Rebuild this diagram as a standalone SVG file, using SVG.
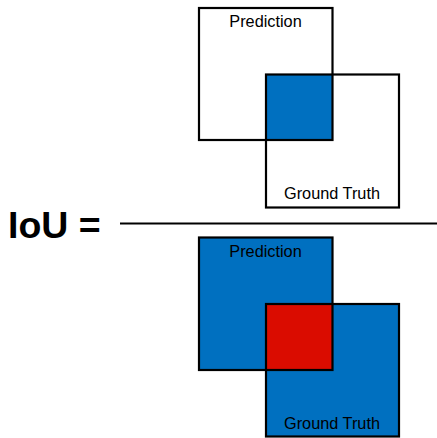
<svg xmlns="http://www.w3.org/2000/svg" width="437" height="438" viewBox="0 0 437 438">
  <style>
    .box { fill: none; stroke: #000; stroke-width: 2.2; }
    .blue { fill: #0070C0; }
    .red { fill: #DA0C00; }
    .lbl { font-family: "Liberation Sans", Arial, sans-serif; font-size: 16.3px; fill: #000; text-anchor: middle; }
    .eq { font-family: "Liberation Sans", Arial, sans-serif; font-size: 37.5px; font-weight: bold; fill: #000; }
  </style>
  <rect width="437" height="438" fill="#fff"/>

  <!-- numerator: intersection of the two boxes -->
  <g id="numerator">
    <rect class="blue" x="266" y="74.5" width="66.5" height="65.5"/>
    <rect id="num-prediction" class="box" x="199" y="8" width="133.5" height="132"/>
    <rect id="num-ground-truth" class="box" x="266" y="74.5" width="133" height="133"/>
    <text class="lbl" x="265.5" y="27">Prediction</text>
    <text class="lbl" x="332" y="199">Ground Truth</text>
  </g>

  <!-- fraction bar -->
  <g id="fraction">
    <line x1="120" y1="223.5" x2="437" y2="223.5" stroke="#000" stroke-width="2"/>
    <text class="eq" x="8" y="237.5">IoU =</text>
  </g>

  <!-- denominator: union of the two boxes -->
  <g id="denominator">
    <rect class="blue" x="199" y="237.5" width="133.5" height="132.5"/>
    <rect class="blue" x="266" y="304" width="133" height="133"/>
    <rect class="red" x="266" y="304" width="66.5" height="66"/>
    <rect id="den-prediction" class="box" x="199" y="237.5" width="133.5" height="132.5"/>
    <rect id="den-ground-truth" class="box" x="266" y="304" width="133" height="132.5"/>
    <text class="lbl" x="265.5" y="256.5">Prediction</text>
    <text class="lbl" x="332" y="429">Ground Truth</text>
  </g>
</svg>
